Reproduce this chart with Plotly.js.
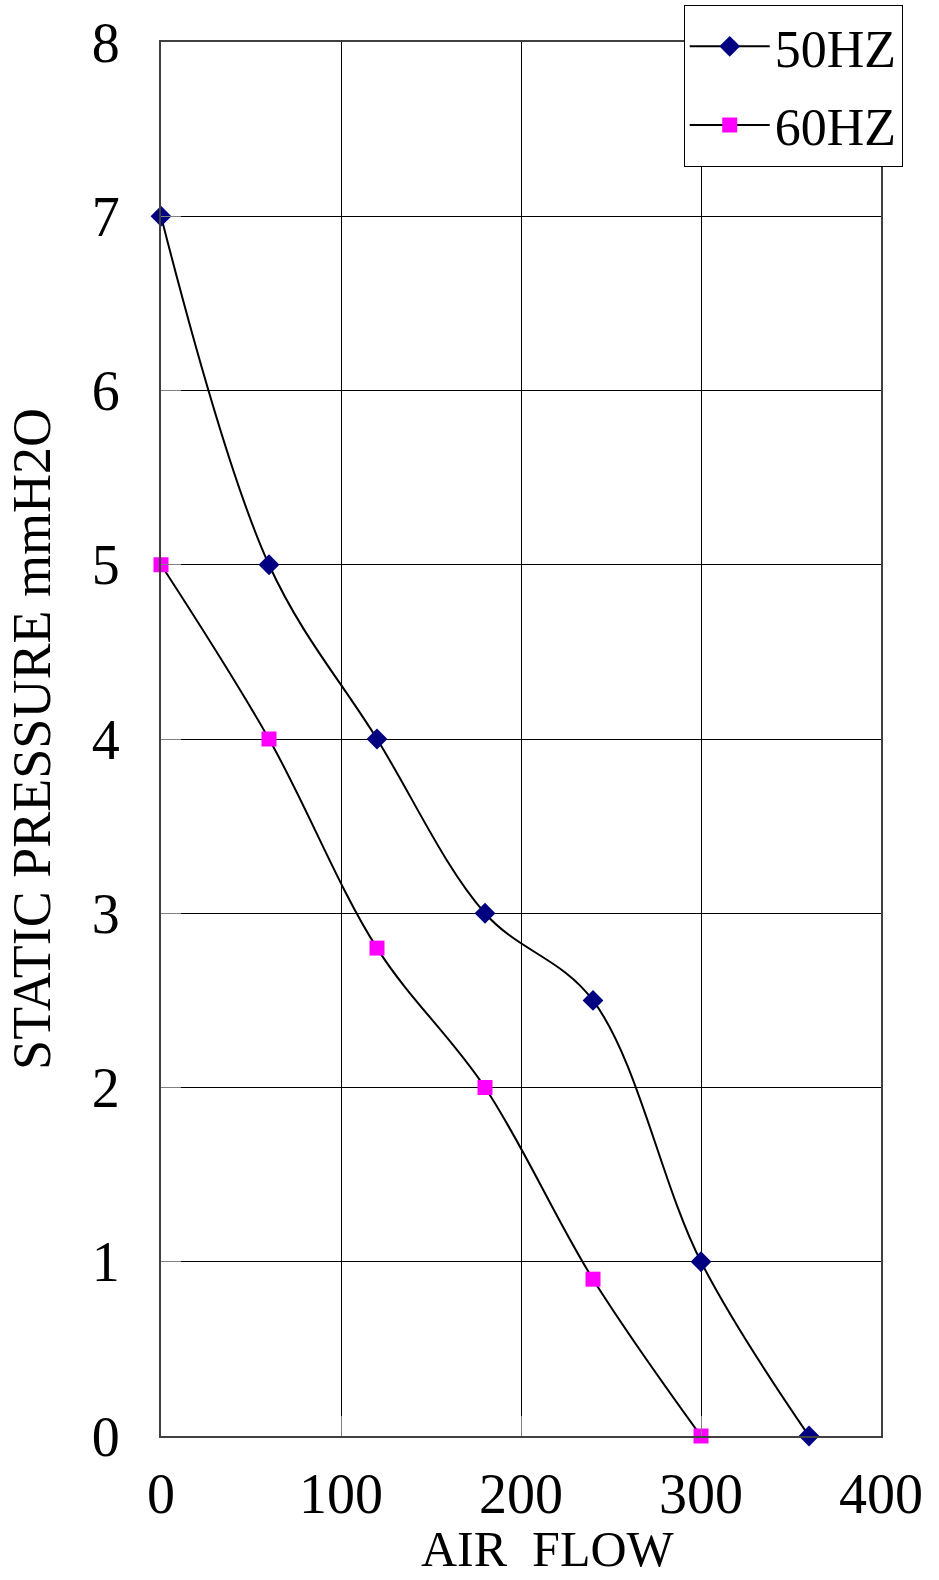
<!DOCTYPE html>
<html>
<head>
<meta charset="utf-8">
<script src="https://cdn.plot.ly/plotly-3.0.1.min.js"></script>
<style>html,body{margin:0;padding:0;background:#fff;overflow:hidden;}#chart{width:939px;height:1580px;}</style>
</head>
<body>
<div id="chart"></div>
<script>
const flow50 = [0, 60, 120, 180, 240, 300, 360];
const pressure50 = [7, 5, 4, 3, 2.5, 1, 0];
const flow60 = [0, 60, 120, 180, 240, 300];
const pressure60 = [5, 4, 2.8, 2, 0.9, 0];
const xTicks = [0, 100, 200, 300, 400];
const yTicks = [0, 1, 2, 3, 4, 5, 6, 7, 8];

const fontFam = '"Liberation Serif", "DejaVu Serif", serif';

const traces = [
  {x: flow50, y: pressure50, name: '50HZ', mode: 'lines+markers', type: 'scatter', legendgroup: 'a',
   cliponaxis: false,
   line: {color: '#000000', width: 2, shape: 'spline', smoothing: 1},
   marker: {symbol: 'diamond', color: '#000080', size: 16}},
  {x: flow60, y: pressure60, name: '60HZ', mode: 'lines+markers', type: 'scatter', legendgroup: 'b',
   cliponaxis: false,
   line: {color: '#000000', width: 2, shape: 'spline', smoothing: 1},
   marker: {symbol: 'square', color: '#FF00FF', size: 15}}
];

const axisCommon = {
  showline: true, linecolor: '#404040', linewidth: 2, mirror: true,
  showgrid: true, gridcolor: '#000000', gridwidth: 1,
  ticks: 'inside', ticklen: 20, tickcolor: '#808080', tickwidth: 1,
  zeroline: false, automargin: false,
  tickfont: {family: fontFam, size: 56, color: '#000'}
};

const layout = {
  width: 939, height: 1580,
  margin: {l: 161, r: 58, t: 42, b: 144, autoexpand: false},
  paper_bgcolor: '#fff', plot_bgcolor: '#fff',
  showlegend: true,
  xaxis: Object.assign({}, axisCommon, {range: [0, 400], tickvals: xTicks, ticktext: xTicks.map(String),
    ticklabelstandoff: 8}),
  yaxis: Object.assign({}, axisCommon, {range: [0, 8], tickvals: yTicks, ticktext: yTicks.map(String),
    ticklabelstandoff: 28,
    title: {text: 'STATIC PRESSURE mmH2O', font: {family: fontFam, size: 54, color: '#000'}, standoff: 24}}),
  legend: {x: 0.726, y: 1.0265, xanchor: 'left', yanchor: 'top',
    bgcolor: '#fff', bordercolor: '#000', borderwidth: 1,
    itemwidth: 80, tracegroupgap: 8,
    font: {family: fontFam, size: 52, color: '#000'}},
  annotations: [
    {text: 'AIR  FLOW', xref: 'paper', yref: 'paper', x: 0.5375, y: -0.0595, xanchor: 'center', yanchor: 'top',
     showarrow: false, font: {family: fontFam, size: 50, color: '#000'}}
  ]
};

Plotly.newPlot('chart', traces, layout, {displayModeBar: false, staticPlot: true});
</script>
</body>
</html>
